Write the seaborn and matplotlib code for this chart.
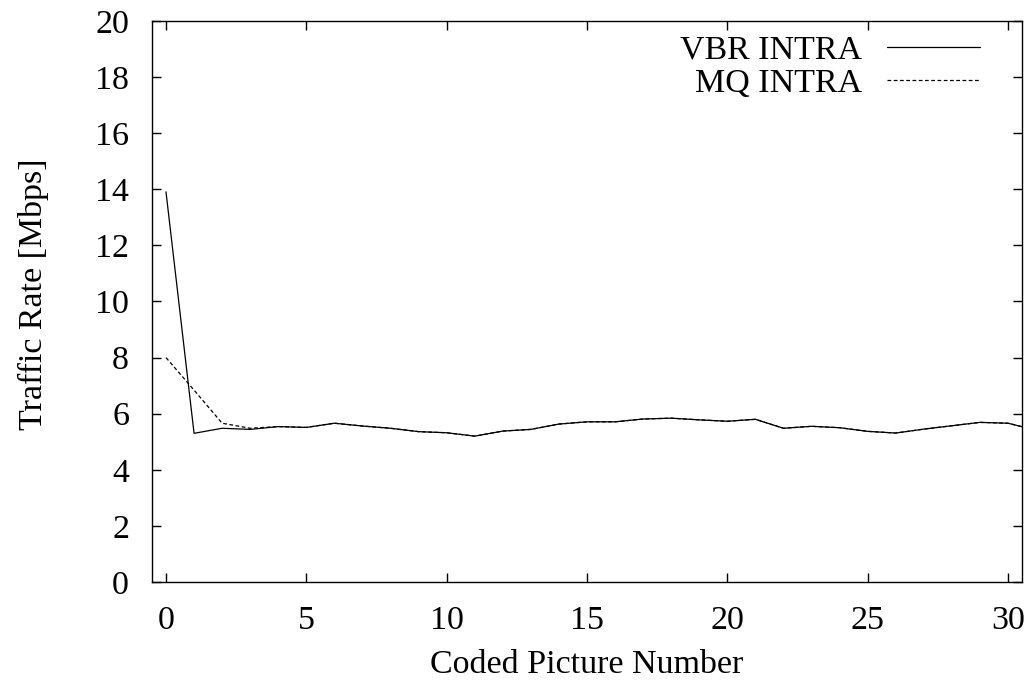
import numpy as np
import pandas as pd
import matplotlib
matplotlib.use("Agg")
import matplotlib.pyplot as plt
import seaborn as sns
from matplotlib.lines import Line2D

picture = list(range(32))
vbr_intra = [13.91, 5.30, 5.48, 5.44, 5.54, 5.51, 5.66, 5.56, 5.48, 5.36,
             5.32, 5.20, 5.38, 5.44, 5.63, 5.71, 5.71, 5.81, 5.84, 5.78,
             5.73, 5.80, 5.48, 5.55, 5.50, 5.37, 5.31, 5.45, 5.57, 5.69,
             5.66, 5.41]
mq_intra = [8.00, 6.84, 5.66, 5.48, 5.54, 5.51, 5.66, 5.56, 5.48, 5.36,
            5.32, 5.20, 5.38, 5.44, 5.63, 5.71, 5.71, 5.81, 5.84, 5.78,
            5.73, 5.80, 5.48, 5.55, 5.50, 5.37, 5.31, 5.45, 5.57, 5.69,
            5.66, 5.41]
series_names = ["VBR INTRA", "MQ INTRA"]

df = pd.DataFrame({
    "x": picture * 2,
    "y": vbr_intra + mq_intra,
    "series": [series_names[0]] * len(picture) + [series_names[1]] * len(picture),
})

sns.set_theme(style="ticks")
plt.rcParams["font.family"] = ["Liberation Serif", "DejaVu Serif"]
plt.rcParams["text.color"] = "black"
plt.rcParams["axes.labelcolor"] = "black"
plt.rcParams["xtick.color"] = "black"
plt.rcParams["ytick.color"] = "black"
plt.rcParams["axes.edgecolor"] = "black"

FS = 24.5

fig = plt.figure(figsize=(10.33, 6.93), dpi=100)
ax = fig.add_axes([0.1471, 0.1602, 0.8423, 0.8095])

sns.lineplot(data=df, x="x", y="y", hue="series", style="series",
             palette=["black", "black"],
             dashes={series_names[0]: "", series_names[1]: (3, 2)},
             linewidth=0.9, ax=ax, legend=False)

ax.set_xlim(-0.5, 30.5)
ax.set_ylim(0, 20)
ax.set_xticks(range(0, 31, 5))
ax.set_yticks(range(0, 21, 2))
ax.tick_params(direction="in", length=6.5, width=1.0, top=True, right=True,
               labelsize=FS, colors="black")
ax.tick_params(axis="y", pad=16.5)
ax.tick_params(axis="x", pad=17)
for s in ax.spines.values():
    s.set_linewidth(1.0)
    s.set_color("black")
ax.set_xlabel("Coded Picture Number", fontsize=FS, labelpad=10, color="black")
ax.set_ylabel("Traffic Rate [Mbps]", fontsize=FS, color="black")
ax.yaxis.set_label_coords(-0.1184, 0.513)

handles = [Line2D([], [], color="black", lw=0.9),
           Line2D([], [], color="black", lw=0.9, dashes=(3, 2))]
leg = ax.legend(handles, series_names, loc="upper right", frameon=False,
                bbox_to_anchor=((980 - 152) / 870, 1 - (35 - 21) / 561),
                markerfirst=False, fontsize=FS, handlelength=2.74,
                handletextpad=0.74, borderaxespad=0.0, borderpad=0.0,
                labelspacing=0.08, labelcolor="black")

fig.savefig("out.png", dpi=100)
